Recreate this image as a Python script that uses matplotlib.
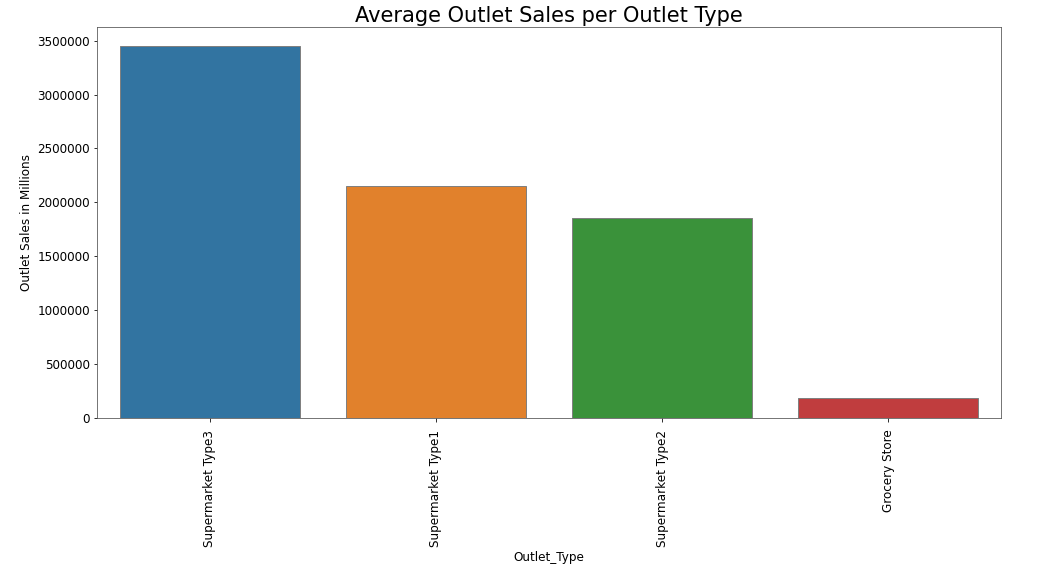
import numpy as np
import matplotlib
matplotlib.use("Agg")
import matplotlib.pyplot as plt
import seaborn as sns

outlet_types = ["Supermarket Type3", "Supermarket Type1", "Supermarket Type2", "Grocery Store"]
avg_sales = [3453926, 2152890, 1851823, 184017]

fig, ax = plt.subplots(figsize=(1062 / 72, 572 / 72), dpi=72)
colors = sns.color_palette("tab10", 4, desat=0.75)
x = np.arange(len(outlet_types))
ax.bar(x, avg_sales, width=0.8, color=colors, edgecolor="gray", linewidth=1)
ax.set_xlim(-0.5, len(outlet_types) - 0.5)
ax.set_xticks(x)
ax.set_xticklabels(outlet_types, rotation=90, fontsize=12)
ax.tick_params(axis="x", pad=8)
ax.tick_params(axis="y", labelsize=12)
ax.ticklabel_format(axis="y", style="plain")
ax.set_title("Average Outlet Sales per Outlet Type", fontsize=21, pad=5)
ax.set_xlabel("Outlet_Type", fontsize=12)
ax.set_ylabel("Outlet Sales in Millions", fontsize=12)
for s in ax.spines.values():
    s.set_color("#555555")

fig.subplots_adjust(left=0.0913, right=0.9426, top=0.9528, bottom=0.2692)
fig.savefig("out.png")
